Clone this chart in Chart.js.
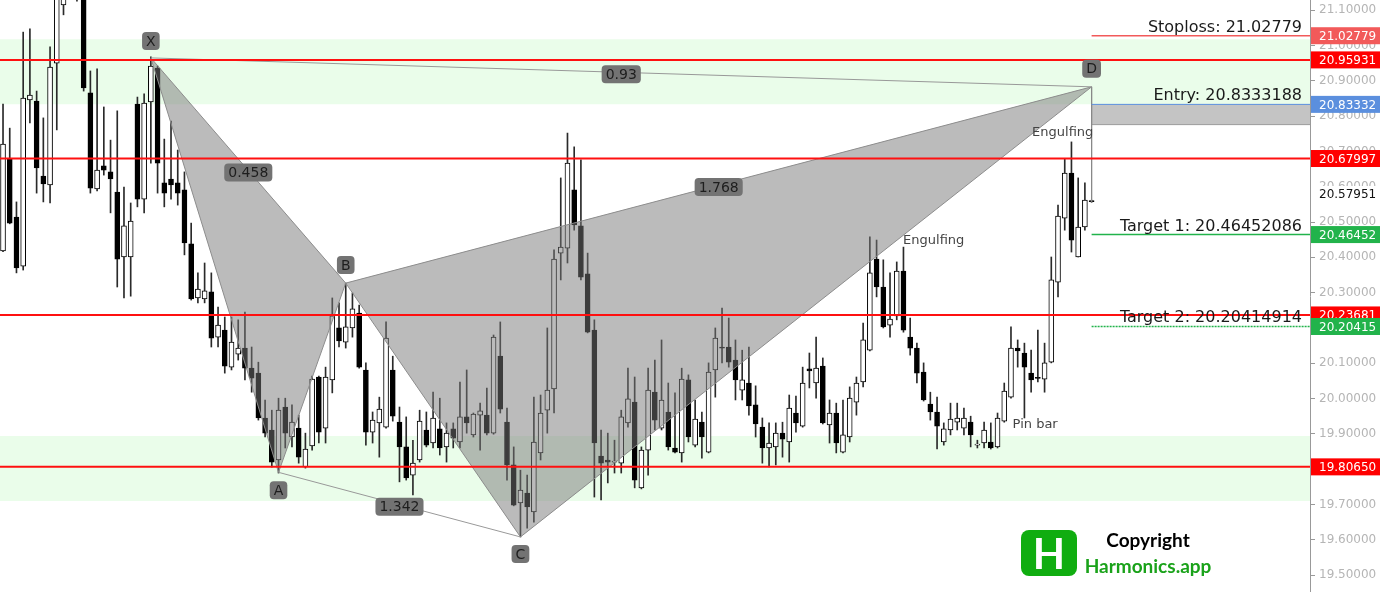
<!DOCTYPE html>
<html>
<head>
<meta charset="utf-8">
<title>Harmonic pattern</title>
<script src="https://cdn.jsdelivr.net/npm/chart.js@4.4.1/dist/chart.umd.min.js"></script>
<style>
    html, body { margin: 0; padding: 0; background: #fff; }
    #wrap { width: 1380px; height: 592px; position: relative; }
</style>
</head>
<body>
<div id="wrap"><canvas id="chart"></canvas></div>
<script>
// Candles, oldest first (index = bar number)
const opens = [
    20.418, 20.679, 20.514, 20.375, 20.846, 20.843, 20.630, 20.605, 20.950, 21.115,
    21.170, 21.220, 21.160, 20.866, 20.594, 20.659, 20.642, 20.585, 20.401, 20.401,
    20.834, 20.565, 20.840, 20.936, 20.611, 20.622, 20.611, 20.591, 20.438, 20.285,
    20.282, 20.302, 20.174, 20.194, 20.089, 20.126, 20.143, 20.086, 20.072, 19.945,
    19.911, 19.826, 19.976, 19.891, 19.916, 19.806, 19.866, 20.061, 19.916, 20.053,
    20.200, 20.160, 20.200, 20.242, 20.081, 19.905, 19.931, 19.919, 20.081, 19.933,
    19.863, 19.783, 19.826, 19.911, 19.874, 19.914, 19.863, 19.914, 19.877, 19.948,
    19.897, 19.953, 19.953, 19.902, 20.120, 19.933, 19.812, 19.704, 19.732, 19.679,
    19.846, 19.967, 20.027, 20.412, 20.426, 20.591, 20.489, 20.353, 20.194, 19.837,
    19.826, 19.820, 19.817, 19.931, 19.990, 19.747, 19.854, 20.018, 19.916, 19.962,
    19.860, 19.846, 20.053, 19.868, 19.933, 19.848, 20.081, 20.146, 20.146, 20.109,
    20.024, 20.044, 19.982, 19.919, 19.860, 19.863, 19.902, 19.877, 19.959, 19.922,
    20.084, 20.044, 20.092, 19.925, 19.959, 19.848, 19.891, 19.990, 20.047, 20.137,
    20.395, 20.316, 20.208, 20.234, 20.361, 20.174, 20.143, 20.075, 19.984, 19.962,
    19.877, 19.911, 19.933, 19.916, 19.933, 19.868, 19.874, 19.877, 19.863, 19.936,
    20.004, 20.143, 20.129, 20.072, 20.058, 20.055, 20.103, 20.330, 20.511, 20.639,
    20.401, 20.486, 20.560
];
const highs = [
    20.834, 20.766, 20.557, 21.038, 21.047, 20.871, 20.795, 20.996, 21.180, 21.190,
    21.250, 21.260, 21.180, 20.928, 20.934, 20.826, 20.732, 20.815, 20.599, 20.554,
    20.854, 20.863, 20.968, 20.942, 20.735, 20.786, 20.704, 20.642, 20.497, 20.356,
    20.384, 20.356, 20.259, 20.231, 20.231, 20.223, 20.245, 20.146, 20.103, 19.996,
    19.967, 20.001, 20.001, 19.982, 19.953, 19.902, 20.064, 20.064, 20.089, 20.285,
    20.271, 20.327, 20.299, 20.265, 20.101, 19.962, 20.004, 20.217, 20.120, 19.976,
    19.948, 19.882, 19.967, 19.962, 20.018, 20.001, 19.931, 19.931, 20.047, 20.081,
    19.959, 19.987, 20.030, 20.180, 20.217, 19.973, 19.863, 19.797, 19.783, 20.004,
    20.010, 20.200, 20.421, 20.625, 20.752, 20.713, 20.676, 20.412, 20.223, 19.911,
    19.902, 19.882, 19.967, 20.086, 20.061, 19.863, 20.086, 20.109, 20.166, 20.044,
    20.016, 20.086, 20.067, 19.996, 19.962, 20.101, 20.200, 20.256, 20.228, 20.166,
    20.137, 20.146, 20.036, 19.945, 19.931, 19.931, 19.933, 20.010, 20.007, 20.089,
    20.129, 20.174, 20.115, 19.996, 19.987, 19.996, 20.033, 20.061, 20.214, 20.458,
    20.449, 20.393, 20.356, 20.387, 20.429, 20.228, 20.157, 20.101, 20.018, 20.004,
    19.931, 19.987, 19.987, 19.973, 19.950, 19.882, 19.933, 19.931, 19.959, 20.044,
    20.203, 20.166, 20.157, 20.137, 20.194, 20.157, 20.401, 20.548, 20.679, 20.727,
    20.625, 20.611, 20.562
];
const lows = [
    20.416, 20.495, 20.356, 20.364, 20.781, 20.582, 20.557, 20.554, 20.761, 21.087,
    21.140, 21.126, 20.871, 20.582, 20.588, 20.633, 20.526, 20.316, 20.285, 20.290,
    20.543, 20.526, 20.667, 20.582, 20.543, 20.565, 20.548, 20.407, 20.279, 20.271,
    20.271, 20.146, 20.146, 20.072, 20.081, 20.109, 20.053, 20.018, 19.939, 19.891,
    19.806, 19.789, 19.860, 19.863, 19.817, 19.803, 19.854, 19.874, 19.874, 20.016,
    20.146, 20.143, 20.174, 20.086, 19.868, 19.874, 19.834, 19.916, 19.936, 19.764,
    19.769, 19.727, 19.820, 19.863, 19.860, 19.840, 19.820, 19.860, 19.860, 19.902,
    19.891, 19.854, 19.897, 19.899, 19.959, 19.769, 19.696, 19.608, 19.633, 19.650,
    19.826, 19.902, 19.959, 20.336, 20.384, 20.477, 20.336, 20.186, 19.721, 19.713,
    19.761, 19.789, 19.789, 19.919, 19.747, 19.744, 19.783, 19.911, 19.911, 19.854,
    19.846, 19.820, 19.877, 19.863, 19.831, 19.846, 20.004, 20.101, 20.089, 19.996,
    19.996, 19.953, 19.891, 19.817, 19.806, 19.812, 19.834, 19.820, 19.905, 19.919,
    20.030, 20.001, 19.928, 19.874, 19.846, 19.846, 19.877, 19.953, 20.033, 20.135,
    20.288, 20.200, 20.174, 20.223, 20.188, 20.123, 20.044, 19.993, 19.939, 19.857,
    19.868, 19.897, 19.911, 19.897, 19.863, 19.860, 19.860, 19.857, 19.860, 19.933,
    20.001, 20.089, 19.945, 20.018, 20.047, 20.018, 20.101, 20.288, 20.477, 20.415,
    20.401, 20.477, 20.556
];
const closes = [
    20.721, 20.497, 20.370, 20.851, 20.860, 20.653, 20.608, 20.939, 21.150, 21.160,
    21.220, 21.180, 20.880, 20.596, 20.647, 20.647, 20.622, 20.395, 20.489, 20.503,
    20.565, 20.837, 20.942, 20.667, 20.582, 20.605, 20.582, 20.441, 20.282, 20.310,
    20.305, 20.171, 20.208, 20.092, 20.160, 20.143, 20.086, 20.058, 19.945, 19.902,
    19.820, 19.967, 19.902, 19.933, 19.834, 19.857, 20.055, 19.905, 20.061, 20.234,
    20.163, 20.203, 20.254, 20.089, 19.905, 19.939, 19.970, 20.171, 19.950, 19.863,
    19.775, 19.817, 19.936, 19.868, 19.945, 19.860, 19.902, 19.888, 19.948, 19.931,
    19.956, 19.965, 19.902, 20.174, 19.970, 19.812, 19.698, 19.741, 19.693, 19.877,
    19.959, 20.024, 20.395, 20.429, 20.667, 20.492, 20.344, 20.188, 19.874, 19.817,
    19.820, 19.821, 19.948, 19.999, 19.769, 19.854, 20.024, 19.939, 19.996, 19.863,
    19.848, 20.055, 19.891, 19.942, 19.891, 20.075, 20.171, 20.143, 20.103, 20.053,
    20.053, 19.979, 19.928, 19.860, 19.874, 19.902, 19.885, 19.973, 19.931, 20.044,
    20.078, 20.086, 19.931, 19.959, 19.874, 19.897, 20.001, 20.044, 20.166, 20.356,
    20.316, 20.203, 20.225, 20.361, 20.194, 20.143, 20.072, 19.996, 19.962, 19.922,
    19.914, 19.942, 19.945, 19.945, 19.897, 19.871, 19.911, 19.860, 19.945, 20.021,
    20.143, 20.135, 20.089, 20.053, 20.057, 20.101, 20.336, 20.517, 20.639, 20.449,
    20.486, 20.562, 20.558
];

// Harmonic pattern points X A B C D
const pointNames = ['X', 'A', 'B', 'C', 'D'];
const pointIdx = [22, 41, 51, 77, 162];
const pointPrice = [20.965, 19.791, 20.327, 19.608, 20.883];
const pointLabelShift = [-17, 18, -18, 17, -18];
const ratioLabels = ['0.458', '1.342', '1.768', '0.93'];
const ratioPairs = [[0, 2], [1, 3], [2, 4], [0, 4]];

// Levels
const redLevels = [20.95931, 20.67997, 20.23681, 19.80650];
const tradeNames = ['Stoploss', 'Entry', 'Target 1', 'Target 2'];
const tradeLevels = [21.02779, 20.8333188, 20.46452086, 20.20414914];
const tradeColors = ['#f25a5a', '#5b8fde', '#22b34b', '#22b34b'];
const lastPrice = 20.57951;

// Zones
const bandTop = [21.018, 19.894];
const bandBottom = [20.834, 19.710];
const entryZone = [20.833, 20.776];

const yTicks = [19.5, 19.6, 19.7, 19.8, 19.9, 20.0, 20.1, 20.2, 20.3, 20.4,
                20.5, 20.6, 20.7, 20.8, 20.9, 21.0, 21.1];

// Candle pattern notes
const notes = ['Engulfing', 'Engulfing', 'Pin bar'];
const noteIdx = [138.5, 157.7, 153.6];
const notePrice = [20.446, 20.752, 19.925];

const xMin = -0.45;
const xMax = 194.5;

Chart.defaults.font.family = 'DejaVu Sans';

const hline = (v, from, to) => [{ x: from, y: v }, { x: to, y: v }];
const pt = k => ({ x: pointIdx[k], y: pointPrice[k] });

const idx = opens.map((_, i) => i);
const datasets = [];

// green zones
bandTop.forEach((top, k) => {
    datasets.push({
        type: 'line', data: hline(top, xMin, xMax), fill: { value: bandBottom[k] },
        backgroundColor: '#eafdea', borderWidth: 0, pointRadius: 0, order: 100
    });
});

// entry zone box
datasets.push({
    type: 'line', data: hline(entryZone[0], pointIdx[4], xMax), fill: { value: entryZone[1] },
    backgroundColor: '#c4c4c4', borderWidth: 0, pointRadius: 0, order: 90
});
datasets.push({
    type: 'line', data: hline(entryZone[1], pointIdx[4], xMax),
    borderColor: '#9a9a9a', borderWidth: 1, pointRadius: 0, order: 89
});

// wicks and bodies
datasets.push({
    type: 'bar', data: idx.map(i => ({ x: i, y: [lows[i], highs[i]] })),
    backgroundColor: '#2a2a2a', barThickness: 1, grouped: false, order: 50
});
datasets.push({
    type: 'bar', data: idx.map(i => ({ x: i, y: [opens[i], closes[i]] })),
    backgroundColor: idx.map(i => closes[i] >= opens[i] ? '#ffffff' : '#000000'),
    borderColor: '#000', borderWidth: 1, borderSkipped: false,
    barThickness: 5, grouped: false, minBarLength: 1, order: 40
});

// pattern triangles XAB and BCD
[[0, 1, 2], [2, 3, 4]].forEach(tri => {
    datasets.push({
        type: 'line', data: [pt(tri[0]), pt(tri[2])],
        borderColor: '#8c8c8c', borderWidth: 1, pointRadius: 0, order: 30
    });
    const sideIndex = datasets.length - 1;
    datasets.push({
        type: 'line', data: [pt(tri[0]), pt(tri[1]), pt(tri[2])], fill: sideIndex,
        backgroundColor: 'rgba(120,120,120,0.5)',
        borderColor: '#8c8c8c', borderWidth: 1, pointRadius: 0, order: 30
    });
});

// X-D and A-C legs, D drop line
datasets.push({ type: 'line', data: [pt(0), pt(4)], borderColor: '#999', borderWidth: 1, pointRadius: 0, order: 20 });
datasets.push({ type: 'line', data: [pt(1), pt(3)], borderColor: '#999', borderWidth: 1, pointRadius: 0, order: 20 });
datasets.push({
    type: 'line', data: [pt(4), { x: pointIdx[4], y: closes[closes.length - 1] }],
    borderColor: '#888', borderWidth: 1, pointRadius: 0, order: 20
});

// red support / resistance lines
redLevels.forEach(v => {
    datasets.push({
        type: 'line', data: hline(v, xMin, xMax), borderColor: '#ff1010',
        borderWidth: 2, pointRadius: 0, order: 10
    });
});

// trade lines
tradeLevels.forEach((v, k) => {
    datasets.push({
        type: 'line', data: hline(v, pointIdx[4], xMax), borderColor: tradeColors[k],
        borderWidth: k === 1 ? 1 : 1.5, borderDash: k === 3 ? [2, 1] : [],
        pointRadius: 0, order: 9
    });
});

function roundBox(ctx, x, y, w, h, r) {
    ctx.beginPath();
    ctx.moveTo(x + r, y);
    ctx.arcTo(x + w, y, x + w, y + h, r);
    ctx.arcTo(x + w, y + h, x, y + h, r);
    ctx.arcTo(x, y + h, x, y, r);
    ctx.arcTo(x, y, x + w, y, r);
    ctx.closePath();
}

function tag(ctx, text, cx, cy) {
    ctx.font = '14px "DejaVu Sans"';
    const w = ctx.measureText(text).width + 8;
    ctx.fillStyle = '#737373';
    roundBox(ctx, cx - w / 2, cy - 9, w, 18, 4);
    ctx.fill();
    ctx.fillStyle = '#1e1e1e';
    ctx.textAlign = 'center';
    ctx.textBaseline = 'middle';
    ctx.fillText(text, cx, cy + 1);
}

// Labels, axis markers and logo drawn on top
const overlayPlugin = {
    id: 'overlay',
    afterDraw(chart) {
        const { ctx, chartArea } = chart;
        const x = chart.scales.x;
        const y = chart.scales.y;
        ctx.save();

        // pattern point tags
        pointNames.forEach((name, k) => {
            tag(ctx, name, x.getPixelForValue(pointIdx[k]), y.getPixelForValue(pointPrice[k]) + pointLabelShift[k]);
        });
        // ratio tags
        ratioLabels.forEach((r, k) => {
            const [a, b] = ratioPairs[k];
            const cx = (x.getPixelForValue(pointIdx[a]) + x.getPixelForValue(pointIdx[b])) / 2;
            const cy = (y.getPixelForValue(pointPrice[a]) + y.getPixelForValue(pointPrice[b])) / 2;
            tag(ctx, r, cx, cy + 2);
        });

        // candle notes
        ctx.font = '13px "DejaVu Sans"';
        ctx.fillStyle = '#444';
        ctx.textAlign = 'center';
        ctx.textBaseline = 'middle';
        notes.forEach((n, k) => {
            ctx.fillText(n, x.getPixelForValue(noteIdx[k]), y.getPixelForValue(notePrice[k]));
        });

        // trade level captions
        ctx.font = '16px "DejaVu Sans"';
        ctx.fillStyle = '#1a1a1a';
        ctx.textAlign = 'right';
        ctx.textBaseline = 'alphabetic';
        tradeLevels.forEach((v, k) => {
            ctx.fillText(tradeNames[k] + ': ' + v, chartArea.right - 8, y.getPixelForValue(v) - 4);
        });

        // price markers on the axis
        const markers = [
            [tradeLevels[0], tradeColors[0]],
            [redLevels[0], '#ff0000'],
            [tradeLevels[1], tradeColors[1]],
            [redLevels[1], '#ff0000'],
            [tradeLevels[2], tradeColors[2]],
            [redLevels[2], '#ff0000'],
            [tradeLevels[3], tradeColors[3]],
            [redLevels[3], '#ff0000']
        ];
        ctx.font = '12px "DejaVu Sans"';
        ctx.textAlign = 'left';
        ctx.textBaseline = 'middle';
        const bx = chartArea.right + 1;
        markers.forEach(([v, c]) => {
            const py = y.getPixelForValue(v);
            ctx.fillStyle = c;
            ctx.fillRect(bx, py - 8.5, chart.width - bx, 17);
            ctx.fillStyle = '#fff';
            ctx.fillText(v.toFixed(5), bx + 8, py + 1);
        });
        const lp = y.getPixelForValue(lastPrice);
        ctx.fillStyle = '#fff';
        ctx.fillRect(bx, lp - 8, chart.width - bx, 16);
        ctx.fillStyle = '#111';
        ctx.fillText(lastPrice.toFixed(5), bx + 8, lp + 1);

        // logo
        ctx.fillStyle = '#10ad10';
        roundBox(ctx, 1021, 530, 56, 46, 8);
        ctx.fill();
        ctx.fillStyle = '#fff';
        ctx.font = 'bold 42px Lato';
        ctx.textAlign = 'center';
        ctx.fillText('H', 1049, 555);
        ctx.font = 'bold 19px Lato';
        ctx.fillStyle = '#000';
        ctx.fillText('Copyright', 1148, 541);
        ctx.fillStyle = '#1aa21a';
        ctx.fillText('Harmonics.app', 1148, 567);

        ctx.restore();
    }
};

new Chart(document.getElementById('chart'), {
    type: 'bar',
    data: { datasets: datasets },
    options: {
        responsive: true,
        maintainAspectRatio: false,
        animation: false,
        layout: { padding: 0 },
        plugins: {
            legend: { display: false },
            tooltip: { enabled: false }
        },
        elements: { line: { tension: 0 } },
        scales: {
            x: { type: 'linear', min: xMin, max: xMax, display: false, offset: false },
            y: {
                position: 'right',
                min: 19.452,
                max: 21.129,
                afterBuildTicks: s => { s.ticks = yTicks.map(v => ({ value: v })); },
                afterFit: s => {
                    // fixed axis width, no extra room for end labels
                    s.width = 70;
                    s.paddingTop = 0;
                    s.paddingBottom = 0;
                },
                grid: { drawOnChartArea: false, drawTicks: true, tickLength: 5, color: '#999' },
                border: { display: true, color: '#999' },
                ticks: {
                    color: '#b5b5b5',
                    font: { family: 'DejaVu Sans', size: 12 },
                    padding: 4,
                    callback: v => Number(v).toFixed(5)
                }
            }
        }
    },
    plugins: [overlayPlugin]
});
</script>
</body>
</html>
